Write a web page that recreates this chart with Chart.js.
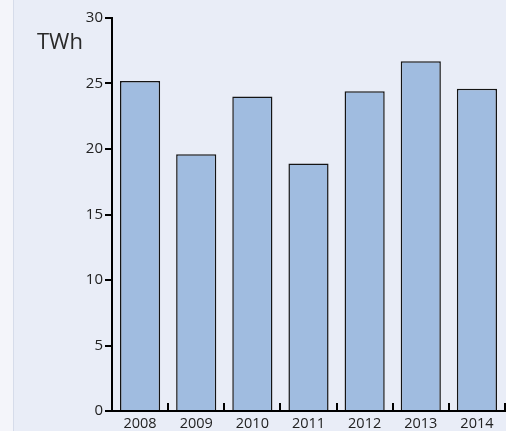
<!DOCTYPE html>
<html>
<head>
<meta charset="utf-8">
<script src="https://cdn.jsdelivr.net/npm/chart.js@4/dist/chart.umd.min.js"></script>
<style>
  html, body { margin: 0; padding: 0; background: #e9edf7; }
  #wrap { width: 506px; height: 431px; position: relative; }
</style>
</head>
<body>
<div id="wrap"><canvas id="chart"></canvas></div>
<script>
const years = ["2008", "2009", "2010", "2011", "2012", "2013", "2014"];
const production = [25.2, 19.6, 24.0, 18.9, 24.4, 26.7, 24.6];
const yMin = 0;
const yMax = 30;
const yStep = 5;
const unitLabel = "TWh";

// background panel with a pale strip on the left
const backgroundPlugin = {
  id: "backgroundPlugin",
  beforeDraw(chart) {
    const { ctx, width, height } = chart;
    ctx.save();
    ctx.fillStyle = "#e9edf7";
    ctx.fillRect(0, 0, width, height);
    ctx.fillStyle = "#f4f5fa";
    ctx.fillRect(0, 0, 13, height);
    ctx.fillStyle = "#d6dcea";
    ctx.fillRect(13, 0, 1, height);
    ctx.restore();
  },
};

// unit label and the short upward ticks between the categories
const extrasPlugin = {
  id: "extrasPlugin",
  afterDraw(chart) {
    const { ctx } = chart;
    const x = chart.scales.x;
    const y = chart.scales.y;
    const base = y.getPixelForValue(0);
    ctx.save();
    ctx.fillStyle = "#2a2a2a";
    ctx.font = "22px 'Open Sans', sans-serif";
    ctx.textBaseline = "middle";
    ctx.textAlign = "left";
    ctx.fillText(unitLabel, 37, 43);

    ctx.strokeStyle = "#000";
    ctx.lineWidth = 2;
    const half = (x.getPixelForValue(1) - x.getPixelForValue(0)) / 2;
    for (let i = 0; i < years.length; i++) {
      const px = Math.round(x.getPixelForValue(i) + half);
      ctx.beginPath();
      ctx.moveTo(px, base);
      ctx.lineTo(px, base - 8);
      ctx.stroke();
    }
    ctx.restore();
  },
};

const ctx = document.getElementById("chart").getContext("2d");
new Chart(ctx, {
  type: "bar",
  data: {
    labels: years,
    datasets: [
      {
        label: unitLabel,
        data: production,
        backgroundColor: "#a0bce0",
        borderColor: "#141414",
        borderWidth: 1.5,
        barPercentage: 0.715,
        categoryPercentage: 1,
      },
    ],
  },
  options: {
    responsive: true,
    maintainAspectRatio: false,
    animation: false,
    layout: { padding: { top: 18, right: 1, left: 0, bottom: 0 } },
    scales: {
      x: {
        grid: { display: false, drawTicks: false },
        border: { color: "#000", width: 2 },
        ticks: {
          color: "#222",
          font: { family: "'Open Sans', sans-serif", size: 14.5 },
          padding: 4,
          maxRotation: 0,
        },
        afterFit: (scale) => {
          scale.height = 20;
        },
      },
      y: {
        min: yMin,
        max: yMax,
        grid: { drawOnChartArea: false, tickLength: 7, color: "#000", lineWidth: 2 },
        border: { color: "#000", width: 2 },
        ticks: {
          stepSize: yStep,
          color: "#222",
          font: { family: "'Open Sans', sans-serif", size: 15 },
          padding: 2,
        },
        afterFit: (scale) => {
          scale.width = 112;
        },
      },
    },
    plugins: {
      legend: { display: false },
      tooltip: { enabled: false },
    },
  },
  plugins: [backgroundPlugin, extrasPlugin],
});
</script>
</body>
</html>
